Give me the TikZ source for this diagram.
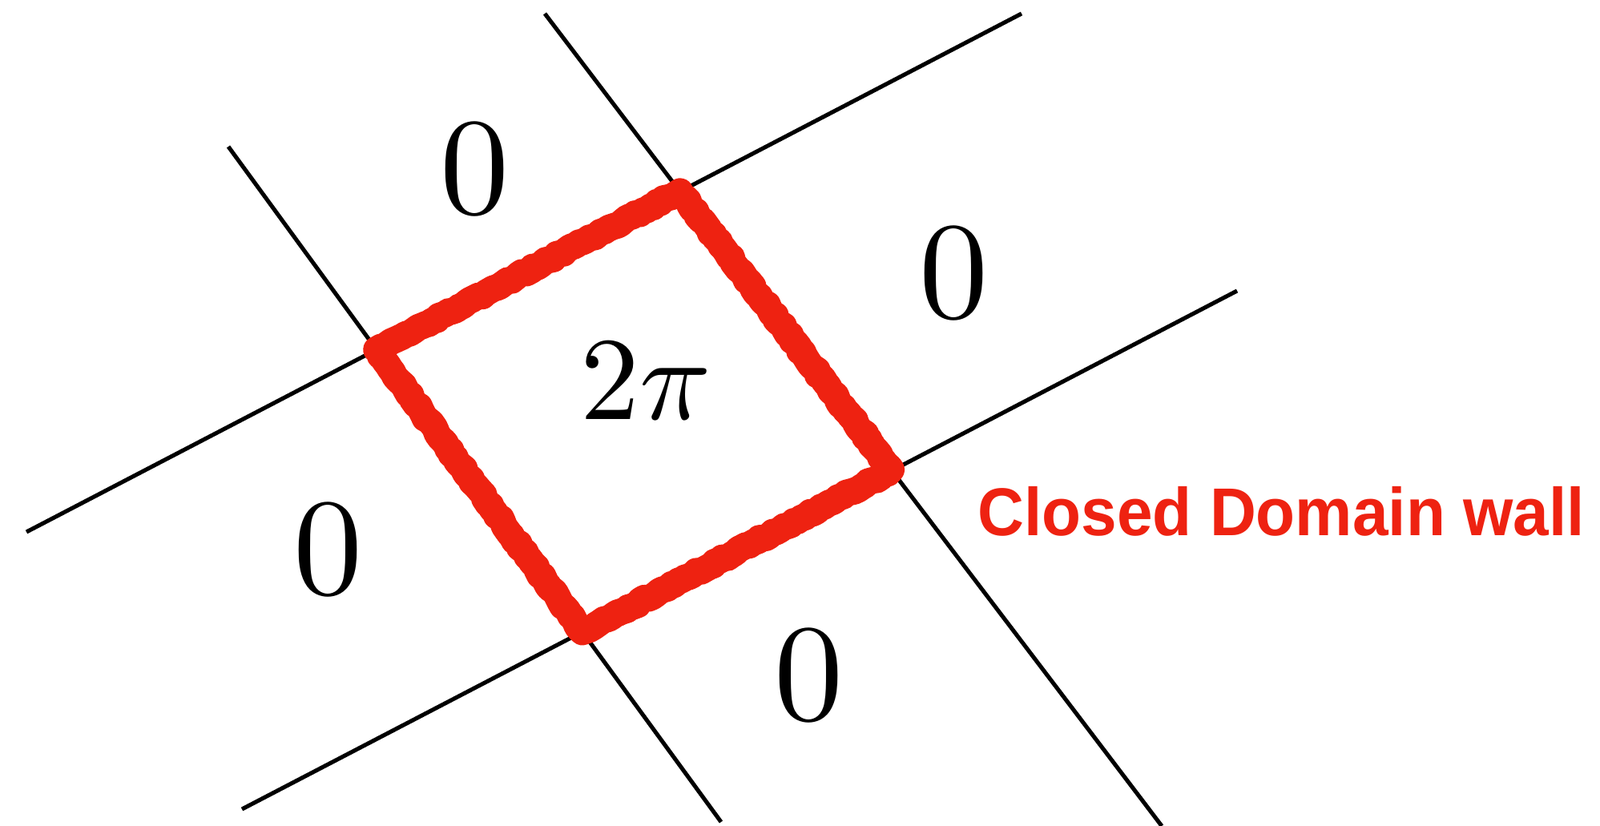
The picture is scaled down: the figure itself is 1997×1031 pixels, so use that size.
\documentclass[tikz,border=0pt]{standalone}
\usepackage{fontspec}
\usepackage{amsmath}
\newfontfamily\labelfont{Liberation Sans}
\usetikzlibrary{decorations.pathmorphing}
\definecolor{wallred}{RGB}{238,34,17}
\tikzset{phase/.style={inner sep=0pt}}

\begin{document}
\begin{tikzpicture}[x=0.01cm, y=-0.01cm, line width=1.45pt]
		% Bildbereich
		\useasboundingbox (0,0) rectangle (1997,1031);
		% Endpunkte der Linien
		\coordinate (a1) at (680,17);   \coordinate (a2) at (1450,1031);
		\coordinate (b1) at (285,183);  \coordinate (b2) at (900,1026);
		\coordinate (c1) at (1275,17);  \coordinate (c2) at (33,664);
		\coordinate (d1) at (1544,363); \coordinate (d2) at (302,1010);
		% Linien zeichnen
		\foreach \l in {a,b,c,d} \draw (\l1) -- (\l2);
		% Schnittpunkte
		\coordinate (top)    at (intersection of a1--a2 and c1--c2);
		\coordinate (right)  at (intersection of a1--a2 and d1--d2);
		\coordinate (bottom) at (intersection of b1--b2 and d1--d2);
		\coordinate (left)   at (intersection of b1--b2 and c1--c2);
		% Domainwand
		\foreach \w/\a in {9.5pt/0.5pt, 7.5pt/1pt}
			\draw[wallred, line width=\w, line join=round,
				decorate, decoration={random steps, segment length=1.5pt, amplitude=\a}]
				(top) -- (right) -- (bottom) -- (left) -- cycle;
		% Beschriftung
		\node[phase] (ztop)    at (593,211)  {\scalebox{4.9}{$0$}};
		\node[phase] (zright)  at (1191,341) {\scalebox{4.9}{$0$}};
		\node[phase] (zleft)   at (410,686)  {\scalebox{4.9}{$0$}};
		\node[phase] (zbottom) at (1010,843) {\scalebox{4.9}{$0$}};
		\node[phase] (inside)  at (806,476)  {\scalebox{4.2}{$2\pi$}};
		\node[wallred, anchor=base west, inner sep=0pt,
			font=\labelfont\bfseries\fontsize{24}{28}\selectfont] (wall) at (1218,669)
			{\scalebox{0.95}[1]{Closed Domain wall}};
\end{tikzpicture}
\end{document}
